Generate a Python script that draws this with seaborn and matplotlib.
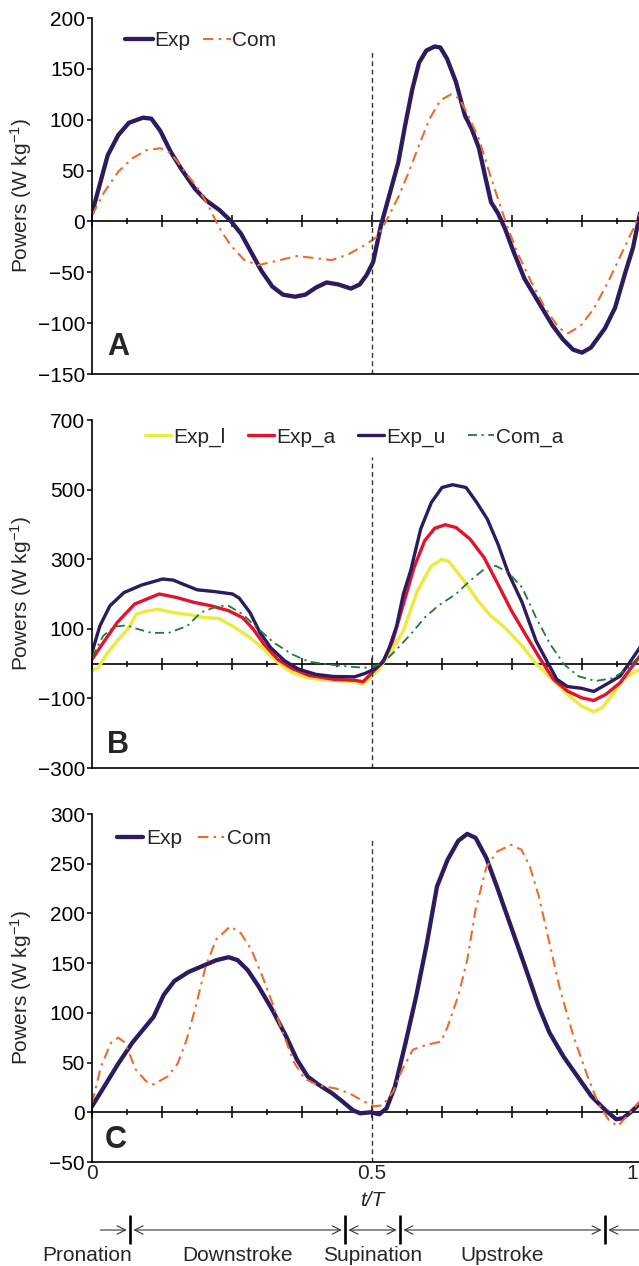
import numpy as np
import pandas as pd
import matplotlib
matplotlib.use("Agg")
import matplotlib.pyplot as plt
import matplotlib.transforms as mtransforms
import seaborn as sns

# ---------------- data ----------------
# Panel A
a_exp_t = [0, 0.028, 0.047, 0.066, 0.091, 0.106, 0.122, 0.141, 0.159, 0.184, 0.203, 0.228, 0.247, 0.266,
           0.284, 0.303, 0.322, 0.341, 0.3625, 0.381, 0.4, 0.419, 0.44, 0.4625, 0.478, 0.49, 0.502, 0.516,
           0.531, 0.547, 0.559, 0.572, 0.584, 0.597, 0.612, 0.622, 0.634, 0.65, 0.666, 0.678, 0.691, 0.703,
           0.7125, 0.725, 0.7375, 0.753, 0.772, 0.797, 0.822, 0.841, 0.859, 0.875, 0.891, 0.916, 0.934,
           0.953, 0.966, 0.98]
a_exp_v = [8, 65, 85, 97, 102, 101, 89, 68, 52, 32, 21, 11, 1, -12, -30, -49, -64, -72, -74, -72, -65,
           -60, -62, -66, -62, -53, -40, -4, 26, 58, 94, 130, 156, 168, 172, 171, 160, 137, 104, 91, 72,
           42, 19, 8, -7, -30, -56, -79, -102, -116, -126, -129, -124, -105, -85, -49, -26, 12]
a_com_t = [0, 0.022, 0.047, 0.072, 0.097, 0.122, 0.141, 0.166, 0.191, 0.209, 0.228, 0.247, 0.272, 0.297,
           0.328, 0.366, 0.397, 0.428, 0.459, 0.491, 0.509, 0.525, 0.547, 0.566, 0.584, 0.603, 0.622,
           0.641, 0.656, 0.672, 0.691, 0.709, 0.725, 0.741, 0.759, 0.784, 0.809, 0.834, 0.85, 0.872,
           0.897, 0.922, 0.947, 0.966, 0.98]
a_com_v = [6, 29, 49, 62, 70, 72, 67, 49, 31, 14, -7, -23, -38, -43, -39, -34, -36, -38, -32, -22, -15,
           0, 24, 49, 75, 101, 119, 125, 121, 104, 81, 49, 22, -4, -30, -59, -85, -105, -110, -103, -85,
           -59, -30, -8, 10]

# Panel B
b_expu_t = [0, 0.014, 0.032, 0.057, 0.089, 0.126, 0.145, 0.163, 0.188, 0.219, 0.251, 0.263, 0.282, 0.3,
            0.319, 0.344, 0.369, 0.4, 0.431, 0.469, 0.488, 0.506, 0.519, 0.531, 0.544, 0.556, 0.569,
            0.587, 0.606, 0.625, 0.644, 0.668, 0.687, 0.706, 0.725, 0.743, 0.768, 0.793, 0.812, 0.83,
            0.849, 0.874, 0.896, 0.918, 0.943, 0.958, 0.98]
b_expu_v = [32, 108, 166, 204, 226, 243, 240, 228, 212, 207, 200, 188, 147, 89, 46, 8, -16, -31, -37,
            -38, -28, -14, 3, 46, 108, 200, 267, 387, 463, 506, 514, 506, 463, 415, 343, 262, 176, 65,
            8, -45, -66, -71, -80, -60, -36, -2, 50]
b_expa_t = [0, 0.02, 0.045, 0.076, 0.12, 0.151, 0.182, 0.213, 0.244, 0.269, 0.288, 0.307, 0.332, 0.357,
            0.388, 0.431, 0.469, 0.484, 0.497, 0.509, 0.522, 0.537, 0.556, 0.575, 0.594, 0.612, 0.631,
            0.65, 0.675, 0.7, 0.725, 0.749, 0.774, 0.799, 0.824, 0.849, 0.874, 0.896, 0.918, 0.943,
            0.961, 0.98]
b_expa_v = [12, 60, 118, 171, 200, 190, 176, 166, 152, 132, 99, 56, 12, -14, -34, -45, -48, -52, -31,
            -12, 12, 65, 171, 276, 353, 389, 399, 391, 358, 305, 228, 152, 84, 17, -45, -79, -98, -106,
            -88, -55, -16, 25]
b_expl_t = [0, 0.011, 0.026, 0.045, 0.064, 0.079, 0.095, 0.117, 0.145, 0.176, 0.2, 0.226, 0.251, 0.282,
            0.307, 0.332, 0.357, 0.388, 0.431, 0.469, 0.484, 0.5, 0.5125, 0.531, 0.556, 0.581, 0.606,
            0.625, 0.637, 0.662, 0.687, 0.712, 0.737, 0.768, 0.793, 0.818, 0.849, 0.874, 0.896, 0.911,
            0.93, 0.949, 0.973, 0.98]
b_expl_v = [-21, -12, 27, 65, 99, 142, 150, 156, 147, 140, 132, 130, 108, 75, 41, 3, -26, -42, -48, -52,
            -58, -36, -16, 27, 94, 209, 281, 300, 294, 243, 185, 137, 104, 51, 0, -40, -88, -122, -138,
            -127, -88, -45, -21, -15]
b_coma_t = [0, 0.02, 0.04, 0.062, 0.08, 0.107, 0.138, 0.17, 0.1945, 0.226, 0.244, 0.269, 0.294, 0.325,
            0.357, 0.388, 0.431, 0.469, 0.494, 0.519, 0.544, 0.569, 0.594, 0.618, 0.65, 0.675, 0.7,
            0.721, 0.743, 0.768, 0.793, 0.818, 0.843, 0.868, 0.899, 0.93, 0.955, 0.98]
b_coma_v = [17, 80, 106, 110, 100, 88, 89, 108, 147, 166, 166, 142, 104, 60, 27, 5, -4, -10, -12, 0, 41,
            84, 132, 166, 200, 238, 271, 281, 262, 219, 132, 56, -2, -36, -50, -42, -16, 25]

# Panel C
c_exp_t = [0, 0.022, 0.047, 0.072, 0.091, 0.11, 0.128, 0.147, 0.172, 0.197, 0.222, 0.244, 0.26, 0.278,
           0.297, 0.322, 0.347, 0.366, 0.385, 0.404, 0.429, 0.447, 0.466, 0.479, 0.498, 0.513, 0.526,
           0.541, 0.56, 0.579, 0.598, 0.616, 0.635, 0.654, 0.67, 0.685, 0.704, 0.723, 0.748, 0.773,
           0.798, 0.817, 0.842, 0.867, 0.892, 0.917, 0.936, 0.948, 0.964, 0.98]
c_exp_v = [6, 26, 49, 70, 83, 96, 118, 132, 141, 147, 153, 156, 153, 143, 127, 103, 76, 53, 36, 28, 19,
           11, 2, -1, 0, -2, 4, 26, 70, 117, 170, 227, 254, 273, 280, 276, 256, 227, 187, 147, 106, 80,
           56, 36, 16, 2, -7, -6, 1, 10]
c_com_t = [0, 0.016, 0.034, 0.047, 0.059, 0.078, 0.097, 0.11, 0.135, 0.153, 0.169, 0.185, 0.203, 0.222,
           0.247, 0.266, 0.285, 0.304, 0.322, 0.341, 0.36, 0.379, 0.404, 0.435, 0.46, 0.485, 0.504,
           0.519, 0.538, 0.554, 0.573, 0.598, 0.623, 0.635, 0.654, 0.67, 0.685, 0.704, 0.723, 0.748,
           0.767, 0.782, 0.798, 0.817, 0.836, 0.86, 0.885, 0.904, 0.923, 0.939, 0.955, 0.98]
c_com_v = [9, 46, 70, 75, 70, 43, 31, 28, 36, 49, 73, 106, 147, 174, 187, 180, 163, 137, 110, 80, 51, 34,
           27, 24, 19, 11, 6, 7, 21, 43, 63, 68, 71, 86, 117, 153, 204, 246, 262, 269, 264, 247, 217,
           170, 123, 76, 36, 9, -8, -14, -4, 12]

a_yticks = [-150, -100, -50, 0, 50, 100, 150, 200]
b_yticks = [-300, -100, 100, 300, 500, 700]
c_yticks = [-50, 0, 50, 100, 150, 200, 250, 300]
x_ticks = [0, 0.5, 1]
x_ticklabels = ["0", "0.5", "1"]

phase_names = ["Pronation", "Downstroke", "Supination", "Upstroke"]
phase_bounds = [0.068, 0.452, 0.55, 0.916]   # end of pronation, downstroke, supination, upstroke

# ---------------- style ----------------
sns.set_style("ticks")
plt.rcParams["font.family"] = ["Liberation Sans", "DejaVu Sans"]
plt.rcParams["mathtext.fontset"] = "custom"
plt.rcParams["mathtext.rm"] = "Liberation Sans"
plt.rcParams["mathtext.it"] = "Liberation Sans:italic"
plt.rcParams["axes.unicode_minus"] = True

W, H = 639, 1266
fig = plt.figure(figsize=(W / 100, H / 100), dpi=100)
FS = 15

C_EXP = "#2C1B5E"
C_COM = "#EE6B2A"
C_YEL = "#ECEA3A"
C_RED = "#E5122C"
C_GRN = "#1D7A3C"
DASHDOT = (0, (5, 2.5, 1.2, 2.5))


def px_axes(top, bottom, left=92, right=652):
    return fig.add_axes([left / W, 1 - bottom / H, (right - left) / W, (bottom - top) / H])


def fmt(v):
    return str(v).replace("-", "\u2212")


def style_axes(ax, ylim, yticks, show_xlabels, vtop, letter, letter_pos):
    ax.set_xlim(0, 1)
    ax.set_ylim(*ylim)
    ax.set_yticks(yticks)
    ax.set_yticklabels([fmt(v) for v in yticks])
    for s in ["top", "right"]:
        ax.spines[s].set_visible(False)
    for s in ["left", "bottom"]:
        ax.spines[s].set_linewidth(1.2)
        ax.spines[s].set_color("black")
    ax.tick_params(axis="y", direction="out", length=3.6, width=1.1, pad=1.5,
                   labelsize=FS, colors="black")
    ax.set_xticks(x_ticks)
    ax.set_xticklabels(x_ticklabels)
    ax.tick_params(axis="x", length=0, pad=1.5, labelsize=FS, labelbottom=show_xlabels)
    ax.set_ylabel("Powers (W kg$^{-1}$)", fontsize=FS)
    ax.yaxis.set_label_coords(-0.104, 0.5)
    ax.set_xlabel("")
    # zero line with ticks
    sec = ax.secondary_xaxis(0, transform=ax.transData)
    sec.set_xticks(np.arange(0, 1.0001, 0.125))
    sec.set_xticks(np.arange(0.0625, 1, 0.125), minor=True)
    sec.tick_params(which="major", direction="inout", length=8.4, width=1.1,
                    labelbottom=False, labeltop=False, color="black")
    sec.tick_params(which="minor", direction="inout", length=5.0, width=1.1,
                    labelbottom=False, labeltop=False, color="black")
    for s in sec.spines.values():
        s.set_linewidth(1.2)
        s.set_color("black")
    sec.spines["top"].set_visible(False)
    # dashed separator at mid-stroke
    ax.vlines(0.5, ylim[0], vtop, colors="#333333", linestyles=(0, (3.5, 2.5)), linewidth=1.0)
    ax.text(letter_pos[0], letter_pos[1], letter, transform=ax.transAxes, fontsize=22,
            fontweight="bold", ha="center", va="center")


def add_legend(ax, x, y, ncol, hl, htp, cs):
    h, l = ax.get_legend_handles_labels()
    ax.legend(h, l, loc="center left", bbox_to_anchor=(x / W, 1 - y / H),
              bbox_transform=fig.transFigure, ncol=ncol, frameon=False, fontsize=FS,
              handlelength=hl, handletextpad=htp, columnspacing=cs, borderpad=0,
              borderaxespad=0)


# ---------------- Panel A ----------------
ax_a = px_axes(18, 374)
sns.lineplot(x=a_exp_t, y=a_exp_v, ax=ax_a, color=C_EXP, linewidth=3.1, label="Exp", sort=False)
sns.lineplot(x=a_com_t, y=a_com_v, ax=ax_a, color=C_COM, linewidth=1.5, linestyle=DASHDOT,
             label="Com", sort=False)
style_axes(ax_a, (-150, 200), a_yticks, False, 170, "A", (0.046, 0.076))
add_legend(ax_a, 125, 41, 2, 1.34, 0.08, 0.58)

# ---------------- Panel B ----------------
ax_b = px_axes(420, 768)
sns.lineplot(x=b_expl_t, y=b_expl_v, ax=ax_b, color=C_YEL, linewidth=2.4, label="Exp_l", sort=False)
sns.lineplot(x=b_expa_t, y=b_expa_v, ax=ax_b, color=C_RED, linewidth=2.4, label="Exp_a", sort=False)
sns.lineplot(x=b_expu_t, y=b_expu_v, ax=ax_b, color=C_EXP, linewidth=2.4, label="Exp_u", sort=False)
sns.lineplot(x=b_coma_t, y=b_coma_v, ax=ax_b, color=C_GRN, linewidth=1.3, linestyle=DASHDOT,
             label="Com_a", sort=False)
style_axes(ax_b, (-300, 700), b_yticks, False, 595, "B", (0.046, 0.066))
add_legend(ax_b, 145, 437, 4, 1.27, 0.08, 1.08)

# ---------------- Panel C ----------------
ax_c = px_axes(814, 1162)
sns.lineplot(x=c_exp_t, y=c_exp_v, ax=ax_c, color=C_EXP, linewidth=3.1, label="Exp", sort=False)
sns.lineplot(x=c_com_t, y=c_com_v, ax=ax_c, color=C_COM, linewidth=1.5, linestyle=DASHDOT,
             label="Com", sort=False)
style_axes(ax_c, (-50, 300), c_yticks, True, 277, "C", (0.043, 0.063))
add_legend(ax_c, 117, 839, 2, 1.25, 0.15, 0.75)
ax_c.set_xlabel("t/T", fontsize=FS, fontstyle="italic")
ax_c.xaxis.set_label_coords(0.5, -0.083)
# the figure is cropped just before t = 1: keep the "1" label inside the visible area
fig.canvas.draw()
last_lab = ax_c.xaxis.get_majorticklabels()[-1]
last_lab.set_horizontalalignment("right")
last_lab.set_transform(last_lab.get_transform()
                       + mtransforms.ScaledTranslation(-13.5 / 100, 0, fig.dpi_scale_trans))

# ---------------- phase annotation ----------------
ax_p = fig.add_axes([92 / W, 0, 560 / W, 61 / H])
ax_p.set_xlim(0, 1)
ax_p.set_ylim(0, 1)
ax_p.axis("off")
bar_lo, bar_hi, arr_y, txt_y = 0.36, 0.836, 0.59, 0.18
gap = 0.006
ax_p.vlines(phase_bounds, bar_lo, bar_hi, colors="black", linewidth=1.9, clip_on=False)
akw = dict(lw=0.8, color="#333333", shrinkA=0, shrinkB=0, mutation_scale=12)
# pronation (start of cycle): single arrow towards its end
ax_p.annotate("", xy=(phase_bounds[0] - gap, arr_y), xytext=(0.015, arr_y),
              arrowprops=dict(arrowstyle="->,head_length=0.5,head_width=0.25", **akw),
              annotation_clip=False)
for lo, hi in zip(phase_bounds[:-1], phase_bounds[1:]):
    ax_p.annotate("", xy=(hi - gap, arr_y), xytext=(lo + gap, arr_y),
                  arrowprops=dict(arrowstyle="<->,head_length=0.5,head_width=0.25", **akw),
                  annotation_clip=False)
# pronation (end of cycle)
ax_p.annotate("", xy=(phase_bounds[-1] + gap, arr_y), xytext=(1.0, arr_y),
              arrowprops=dict(arrowstyle="->,head_length=0.5,head_width=0.25", **akw),
              annotation_clip=False)
starts = [phase_bounds[-1] - 1] + phase_bounds[:-1]
for name, lo, hi in zip(phase_names, starts, phase_bounds):
    ax_p.text((lo + hi) / 2, txt_y, name, fontsize=FS, ha="center", va="center", clip_on=False)

fig.savefig("out.png", dpi=100)
